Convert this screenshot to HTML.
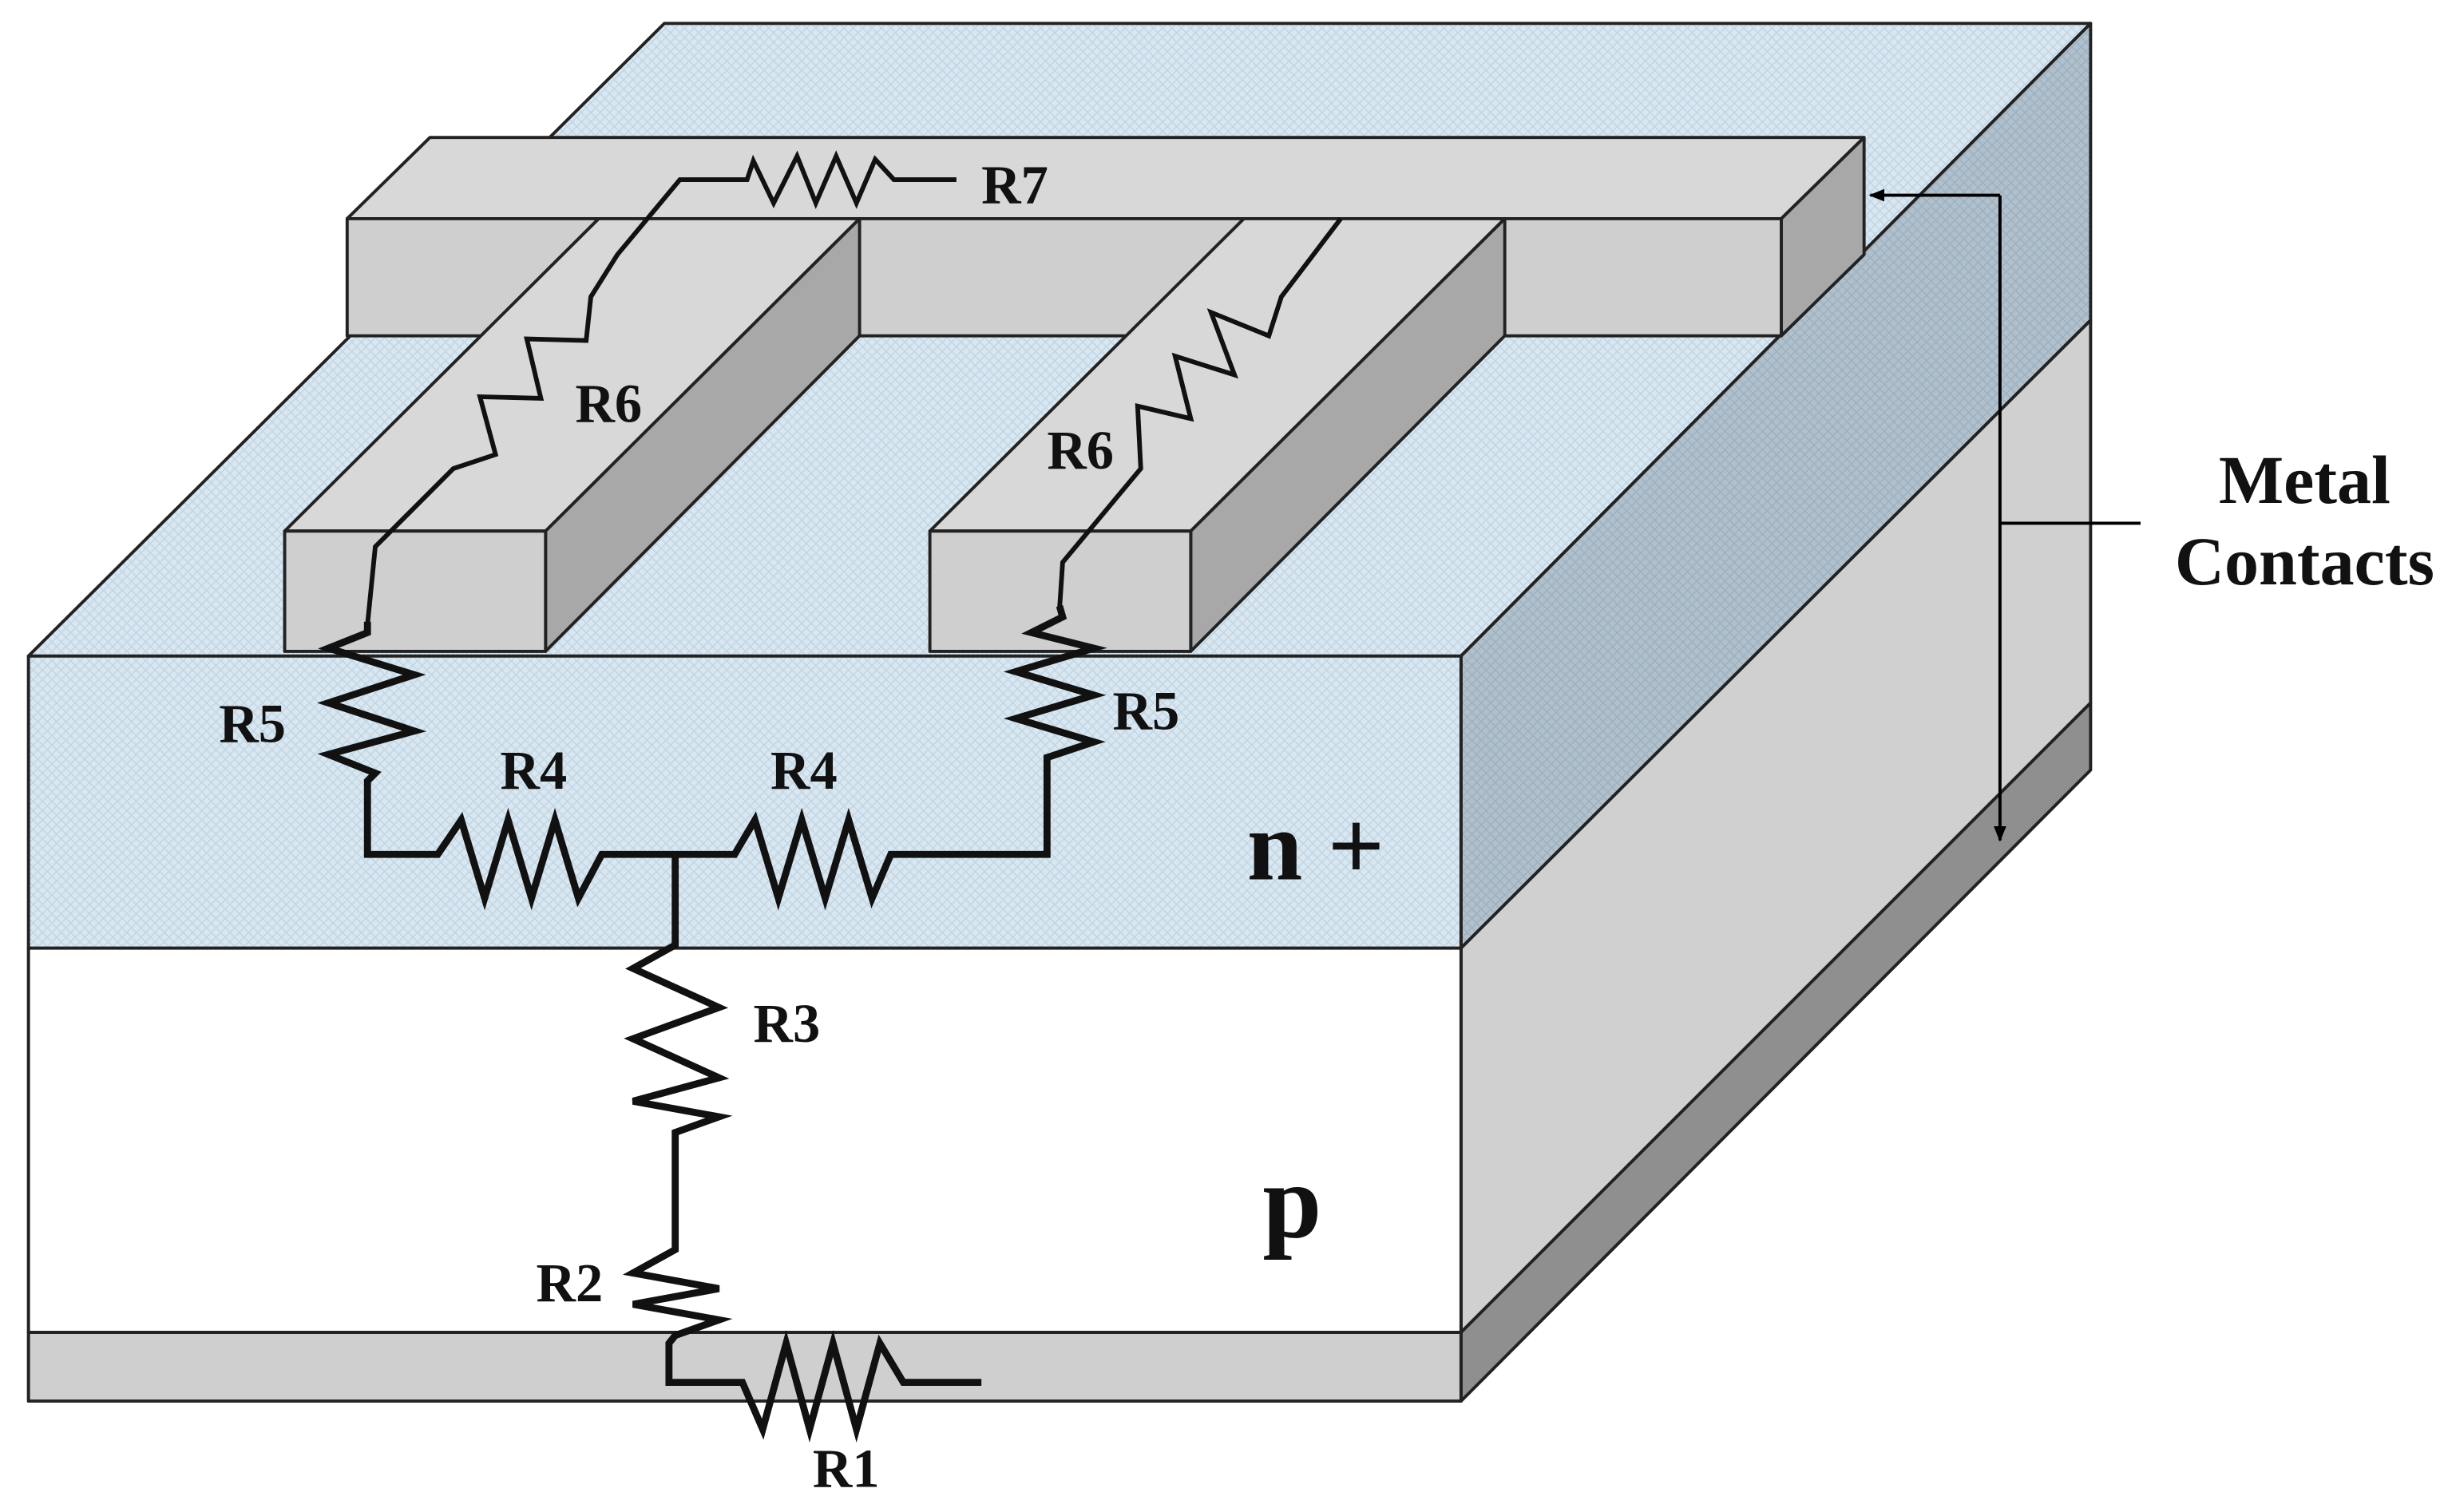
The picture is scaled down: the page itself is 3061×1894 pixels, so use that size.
<!DOCTYPE html>
<html><head><meta charset="utf-8"><style>
html,body{margin:0;padding:0;background:#fff;}
svg{display:block;}
text{font-family:"Liberation Serif",serif;font-weight:bold;fill:#111;}
</style></head><body>
<svg width="3061" height="1894" viewBox="0 0 1564 968" xmlns="http://www.w3.org/2000/svg">
<defs>
<pattern id="bl" width="6" height="6" patternUnits="userSpaceOnUse">
<rect width="6" height="6" fill="#d9e7f1"/>
<path d="M0 0L6 6M6 0L0 6" stroke="#c3d6e4" stroke-width="0.8"/>
</pattern>
<pattern id="bd" width="6" height="6" patternUnits="userSpaceOnUse">
<rect width="6" height="6" fill="#b0c0cd"/>
<path d="M0 0L6 6M6 0L0 6" stroke="#9fb1bf" stroke-width="0.8"/>
</pattern>
<marker id="ah" markerWidth="10" markerHeight="10" refX="9" refY="5" orient="auto" markerUnits="userSpaceOnUse">
<path d="M0 1L10 5L0 9z" fill="#000"/>
</marker>
</defs>
<g stroke="#222" stroke-width="2" stroke-linejoin="round">
<polygon points="18,420 425,15 1338,15 935,420" fill="url(#bl)"/>
<polygon points="935,420 1338,15 1338,205 935,607" fill="url(#bd)"/>
<polygon points="935,607 1338,205 1338,450 935,853" fill="#d0d0d0"/>
<polygon points="935,853 1338,450 1338,493 935,897" fill="#8f8f8f"/>
<rect x="18" y="420" width="917" height="187" fill="url(#bl)"/>
<rect x="18" y="607" width="917" height="246" fill="#fff"/>
<rect x="18" y="853" width="917" height="44" fill="#cfcfcf"/>
<polygon points="222,140 275,88 1193,88 1140,140" fill="#d8d8d8"/>
<polygon points="1140,140 1193,88 1193,163 1140,215" fill="#a8a8a8"/>
<rect x="222" y="140" width="918" height="75" fill="#cfcfcf"/>
<polygon points="182,340 383,140 550,140 349,340" fill="#d8d8d8"/>
<polygon points="349,340 550,140 550,215 349,417" fill="#a8a8a8"/>
<rect x="182" y="340" width="167" height="77" fill="#cfcfcf"/>
<polygon points="595,340 796,140 963,140 762,340" fill="#d8d8d8"/>
<polygon points="762,340 963,140 963,215 762,417" fill="#a8a8a8"/>
<rect x="595" y="340" width="167" height="77" fill="#cfcfcf"/>
</g>
<g fill="none" stroke="#111" stroke-width="3" stroke-linejoin="miter">
<polyline points="612,115 572,115 560,102 548,130 535,100 522,130 510,100 495,130 482,103 478,115 435,115 395,163 378,190 375,218 337,217 346,255 307,254 317,291 290,300 240,350 235,400"/>
<polyline points="858,140 820,190 812,215 775,200 790,240 752,228 762,268 728,260 730,300 680,360 678,390"/>
</g>
<g fill="none" stroke="#111" stroke-width="4.5" stroke-linejoin="miter">
<polyline points="235,398 235,405 210,415 265,432 210,450 265,468 210,483 240,495 235,500 235,547 280,547 295,525 310,575 325,525 340,575 355,525 370,575 385,547 470,547 483,525 498,575 513,525 528,575 543,525 558,575 570,547 585,547 670,547 670,485 700,475 650,460 700,445 650,430 700,415 660,405 680,395 678,388"/>
<polyline points="432,547 432,605 405,620 460,645 405,665 460,690 405,705 460,715 432,725 432,800 405,815 460,825 405,835 460,845 432,855 428,860 428,885 475,885 488,915 503,860 518,915 533,860 548,915 563,860 578,885 628,885"/>
</g>
<g stroke="#000" stroke-width="2" fill="none">
<line x1="1280" y1="125" x2="1197" y2="125" marker-end="url(#ah)"/>
<line x1="1280" y1="125" x2="1280" y2="538" marker-end="url(#ah)"/>
<line x1="1280" y1="335" x2="1370" y2="335"/>
</g>
<text x="1475" y="322" font-size="44" text-anchor="middle">Metal</text>
<text x="1475" y="374" font-size="44" text-anchor="middle">Contacts</text>
<g font-size="35">
<text x="628" y="130">R7</text>
<text x="368" y="270">R6</text>
<text x="670" y="300">R6</text>
<text x="140" y="475">R5</text>
<text x="712" y="467">R5</text>
<text x="320" y="505">R4</text>
<text x="493" y="505">R4</text>
<text x="482" y="667">R3</text>
<text x="343" y="833">R2</text>
<text x="520" y="952">R1</text>
</g>
<text x="798" y="563" font-size="64">n +</text>
<text x="808" y="792" font-size="68">p</text>
</svg>
</body></html>
